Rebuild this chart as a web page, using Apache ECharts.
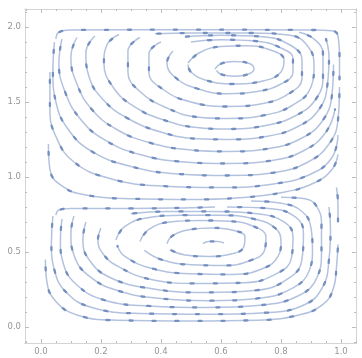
<!DOCTYPE html>
<html>
<head>
<meta charset="utf-8">
<script src="https://cdn.jsdelivr.net/npm/echarts@6/dist/echarts.min.js"></script>
<style>html,body{margin:0;padding:0;background:#fff}#c{width:362px;height:358px}</style>
</head>
<body>
<div id="c"></div>
<script>
// tick labels
const xTicks = [0, 0.2, 0.4, 0.6, 0.8, 1.0];
const yTicks = [0, 0.5, 1.0, 1.5, 2.0];
const xMinor = [-0.05,0.05,0.1,0.15,0.25,0.3,0.35,0.45,0.5,0.55,0.65,0.7,0.75,0.85,0.9,0.95,1.05];
const yMinor = [-0.1,0.1,0.2,0.3,0.4,0.6,0.7,0.8,0.9,1.1,1.2,1.3,1.4,1.6,1.7,1.8,1.9,2.1];

// streamlines of the upper vortex
const upperLines = [
  [[0.58,1.72],[0.60,1.755],[0.645,1.77],[0.69,1.76],[0.71,1.72],[0.69,1.685],[0.645,1.672],[0.60,1.685],[0.585,1.71]],
  [[0.49,1.76],[0.53,1.83],[0.60,1.87],[0.68,1.875],[0.76,1.85],[0.81,1.78],[0.80,1.70],[0.74,1.64],[0.64,1.62],[0.55,1.645],[0.50,1.70],[0.49,1.75]],
  [[0.44,1.84],[0.42,1.76],[0.45,1.66],[0.52,1.59],[0.62,1.555],[0.72,1.57],[0.80,1.62],[0.84,1.70],[0.84,1.79],[0.80,1.86],[0.72,1.905],[0.60,1.915],[0.50,1.90]],
  [[0.40,1.90],[0.36,1.82],[0.36,1.70],[0.41,1.58],[0.50,1.50],[0.62,1.47],[0.74,1.49],[0.83,1.56],[0.87,1.66],[0.87,1.78],[0.83,1.88],[0.74,1.935],[0.60,1.945],[0.48,1.935]],
  [[0.33,1.93],[0.29,1.84],[0.29,1.70],[0.33,1.57],[0.42,1.46],[0.52,1.40],[0.62,1.39],[0.74,1.41],[0.84,1.48],[0.90,1.60],[0.91,1.74],[0.89,1.87],[0.83,1.945],[0.70,1.96],[0.50,1.96],[0.38,1.955]],
  [[0.26,1.95],[0.22,1.88],[0.21,1.76],[0.24,1.60],[0.31,1.47],[0.41,1.38],[0.52,1.33],[0.62,1.32],[0.74,1.34],[0.85,1.41],[0.92,1.53],[0.94,1.68],[0.94,1.82],[0.91,1.92],[0.86,1.965]],
  [[0.18,1.94],[0.15,1.83],[0.16,1.67],[0.21,1.51],[0.29,1.39],[0.40,1.30],[0.52,1.255],[0.62,1.25],[0.75,1.27],[0.86,1.34],[0.93,1.46],[0.955,1.62],[0.96,1.80],[0.95,1.92]],
  [[0.12,1.93],[0.10,1.80],[0.12,1.62],[0.17,1.45],[0.25,1.32],[0.36,1.23],[0.50,1.18],[0.62,1.17],[0.76,1.19],[0.87,1.26],[0.94,1.38],[0.97,1.55],[0.975,1.75]],
  [[0.07,1.92],[0.06,1.76],[0.08,1.57],[0.13,1.39],[0.21,1.25],[0.33,1.15],[0.48,1.10],[0.62,1.09],[0.77,1.11],[0.88,1.18],[0.95,1.30],[0.98,1.45]],
  [[0.045,1.90],[0.04,1.70],[0.05,1.50],[0.09,1.32],[0.17,1.17],[0.30,1.07],[0.46,1.02],[0.62,1.01],[0.78,1.03],[0.89,1.10],[0.96,1.22],[0.99,1.38],[0.995,1.60]],
  [[0.03,1.70],[0.03,1.45],[0.05,1.27],[0.11,1.10],[0.23,0.99],[0.40,0.94],[0.60,0.93],[0.78,0.955],[0.90,1.02],[0.97,1.13],[0.99,1.28]],
  [[0.025,1.22],[0.03,1.05],[0.07,0.94],[0.15,0.88],[0.30,0.855],[0.50,0.85],[0.65,0.86],[0.80,0.895],[0.91,0.96],[0.97,1.05],[0.99,1.15]],
  [[0.05,1.92],[0.06,1.965],[0.10,1.98],[0.50,1.982],[0.90,1.98],[0.97,1.975],[0.99,1.94],[0.995,1.80],[0.995,1.65]]
];

// streamlines of the lower vortex
const lowerLines = [
  [[0.54,0.555],[0.56,0.57],[0.59,0.57],[0.61,0.56]],
  [[0.42,0.555],[0.44,0.61],[0.50,0.65],[0.57,0.66],[0.64,0.645],[0.68,0.60],[0.675,0.53],[0.63,0.485],[0.56,0.47],[0.48,0.48],[0.43,0.515]],
  [[0.33,0.57],[0.36,0.65],[0.43,0.70],[0.53,0.71],[0.63,0.705],[0.71,0.67],[0.75,0.60],[0.745,0.51],[0.70,0.445],[0.61,0.41],[0.50,0.415],[0.40,0.45],[0.345,0.51]],
  [[0.25,0.58],[0.28,0.67],[0.36,0.73],[0.47,0.745],[0.60,0.745],[0.71,0.72],[0.78,0.66],[0.80,0.57],[0.79,0.47],[0.74,0.39],[0.64,0.35],[0.50,0.355],[0.37,0.39],[0.28,0.47],[0.255,0.54]],
  [[0.20,0.66],[0.19,0.58],[0.21,0.48],[0.26,0.40],[0.36,0.32],[0.52,0.29],[0.68,0.295],[0.79,0.36],[0.835,0.46],[0.84,0.60],[0.81,0.70],[0.72,0.755],[0.58,0.77],[0.42,0.77],[0.30,0.755]],
  [[0.15,0.70],[0.14,0.58],[0.16,0.45],[0.23,0.33],[0.37,0.255],[0.55,0.23],[0.72,0.245],[0.83,0.33],[0.87,0.45],[0.875,0.62],[0.85,0.73],[0.76,0.79],[0.62,0.80]],
  [[0.11,0.74],[0.10,0.62],[0.11,0.48],[0.16,0.34],[0.26,0.24],[0.40,0.19],[0.56,0.175],[0.72,0.19],[0.84,0.26],[0.895,0.38],[0.905,0.52],[0.90,0.66],[0.87,0.77],[0.80,0.825],[0.70,0.84]],
  [[0.07,0.72],[0.065,0.58],[0.075,0.42],[0.12,0.28],[0.21,0.18],[0.36,0.14],[0.55,0.13],[0.73,0.145],[0.86,0.21],[0.92,0.33],[0.935,0.50],[0.935,0.68],[0.92,0.80],[0.88,0.855],[0.80,0.865]],
  [[0.04,0.74],[0.035,0.56],[0.045,0.38],[0.085,0.23],[0.17,0.13],[0.33,0.09],[0.55,0.085],[0.75,0.095],[0.88,0.15],[0.94,0.27],[0.96,0.45],[0.965,0.65],[0.96,0.80]],
  [[0.015,0.45],[0.02,0.30],[0.05,0.17],[0.12,0.08],[0.25,0.045],[0.50,0.04],[0.72,0.045],[0.86,0.08],[0.94,0.15],[0.975,0.26],[0.985,0.40],[0.99,0.55]],
  [[0.05,0.745],[0.06,0.78],[0.10,0.79],[0.30,0.79],[0.50,0.795],[0.58,0.80]],
  [[0.985,0.93],[0.99,0.82],[0.99,0.70]]
];

const allLines = upperLines.concat(lowerLines);
const series = [];
allLines.forEach(function (pts) {
  series.push({
    type: 'line', data: pts, smooth: 0.45, symbol: 'none', silent: true,
    lineStyle: { color: '#b3c2de', width: 1.5 }, z: 2
  });
  series.push({
    type: 'line', data: pts, smooth: 0.45, symbol: 'none', silent: true,
    lineStyle: { color: '#7590c0', width: 2.3, type: [3, 20], cap: 'round', dashOffset: -8 }, z: 3
  });
});

const frameColor = '#d4d4d4';
const tickColor = '#bdbdbd';
function xAx(pos, vals, len, labels) {
  return {
    type: 'value', position: pos, min: -0.053, max: 1.05,
    axisLine: { show: true, onZero: false, lineStyle: { color: frameColor, width: 1 } },
    axisTick: { show: true, inside: true, length: len, customValues: vals, lineStyle: { color: tickColor } },
    axisLabel: labels ? { show: true, customValues: vals, color: '#969696', fontSize: 8.5, margin: 4,
      fontFamily: 'DejaVu Sans', formatter: function (v) { return v.toFixed(1); } } : { show: false },
    splitLine: { show: false }
  };
}
function yAx(pos, vals, len, labels) {
  return {
    type: 'value', position: pos, min: -0.107, max: 2.12,
    axisLine: { show: true, onZero: false, lineStyle: { color: frameColor, width: 1 } },
    axisTick: { show: true, inside: true, length: len, customValues: vals, lineStyle: { color: tickColor } },
    axisLabel: labels ? { show: true, customValues: vals, color: '#969696', fontSize: 8.5, margin: 4,
      fontFamily: 'DejaVu Sans', formatter: function (v) { return v.toFixed(1); } } : { show: false },
    splitLine: { show: false }
  };
}

const chart = echarts.init(document.getElementById('c'), null, { renderer: 'canvas' });
chart.setOption({
  animation: false,
  backgroundColor: '#ffffff',
  grid: { left: 25, right: 6, top: 9, bottom: 15, containLabel: false },
  xAxis: [xAx('bottom', xTicks, 4, true), xAx('bottom', xMinor, 2, false), xAx('top', xTicks, 4, false), xAx('top', xMinor, 2, false)],
  yAxis: [yAx('left', yTicks, 4, true), yAx('left', yMinor, 2, false), yAx('right', yTicks, 4, false), yAx('right', yMinor, 2, false)],
  series: series
});
</script>
</body>
</html>
